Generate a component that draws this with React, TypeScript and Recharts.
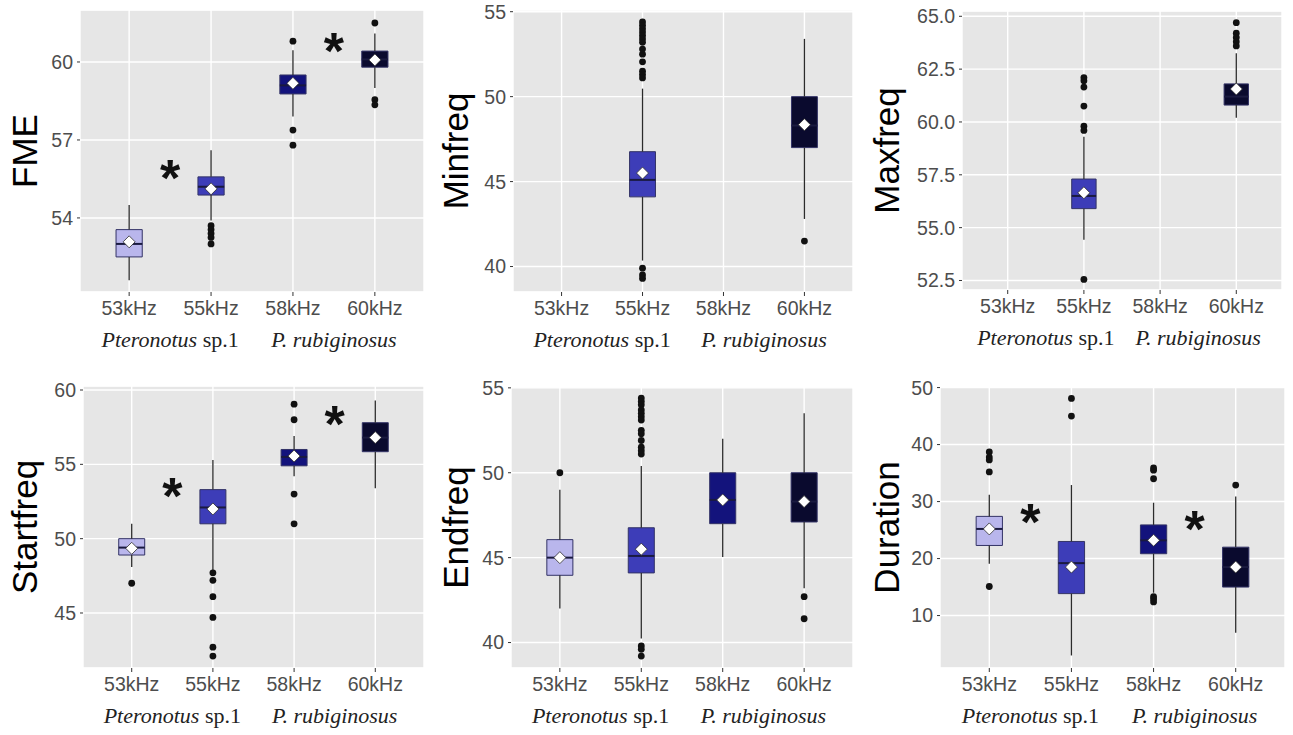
import React from 'react'
import {
  ComposedChart,
  XAxis,
  YAxis,
  CartesianGrid,
  Scatter,
  ReferenceArea,
  ReferenceLine,
} from 'recharts'

const GROUPS = ['53kHz', '55kHz', '58kHz', '60kHz']
const SPECIES_ITALIC = ['Pteronotus', 'P. rubiginosus']
const SPECIES_PLAIN = [' sp.1', '']
const SPECIES_POS = [1.5, 3.5]

// one row per group: [whisker low, Q1, median, Q3, whisker high, mean]; null = no data
type Stat = number[] | null

const fmeStats: Stat[] = [
  [51.6, 52.5, 53.0, 53.55, 54.5, 53.08],
  [53.9, 54.88, 55.2, 55.58, 56.6, 55.12],
  [57.9, 58.77, 59.1, 59.5, 60.45, 59.18],
  [59.0, 59.8, 60.1, 60.42, 61.1, 60.08],
]
const fmeOutliers = [
  [2, 53.7], [2, 53.55], [2, 53.4], [2, 53.25], [2, 53.0],
  [3, 60.8], [3, 57.38], [3, 56.8],
  [4, 61.5], [4, 58.55], [4, 58.35],
]
const fmeStars = [[1.5, 56.0], [3.5, 60.9]]

const minStats: Stat[] = [
  null,
  [40.35, 44.1, 45.1, 46.76, 50.47, 45.5],
  null,
  [42.8, 47.0, 48.3, 50.0, 53.4, 48.35],
]
const minOutliers = [
  [2, 54.4], [2, 54.2], [2, 54.0], [2, 53.8], [2, 53.6], [2, 53.4], [2, 53.2],
  [2, 52.8], [2, 52.5], [2, 52.05], [2, 51.5], [2, 51.3], [2, 51.1],
  [2, 39.9], [2, 39.5], [2, 39.3],
  [4, 41.5],
]

const maxStats: Stat[] = [
  null,
  [54.43, 55.9, 56.5, 57.3, 59.3, 56.65],
  null,
  [60.2, 60.8, 61.2, 61.8, 63.25, 61.56],
]
const maxOutliers = [
  [2, 62.1], [2, 61.95], [2, 61.65], [2, 60.75], [2, 59.8], [2, 59.6], [2, 52.55],
  [4, 64.7], [4, 64.2], [4, 64.0], [4, 63.8], [4, 63.6],
]

const startStats: Stat[] = [
  [48.1, 48.9, 49.4, 50.0, 51.0, 49.35],
  [47.9, 51.0, 52.1, 53.3, 55.3, 52.0],
  [54.2, 54.9, 55.5, 56.0, 56.9, 55.56],
  [53.4, 55.85, 56.8, 57.8, 59.3, 56.8],
]
const startOutliers = [
  [1, 47.0],
  [2, 47.7], [2, 47.2], [2, 46.1], [2, 44.7], [2, 42.7], [2, 42.1],
  [3, 59.05], [3, 58.0], [3, 53.0], [3, 51.0],
]
const startStars = [[1.5, 53.7], [3.5, 58.5]]

const endStats: Stat[] = [
  [42.0, 43.96, 45.0, 46.06, 49.0, 45.0],
  [40.24, 44.1, 45.1, 46.76, 50.4, 45.5],
  [45.04, 47.0, 48.4, 50.0, 52.0, 48.4],
  [43.2, 47.1, 48.3, 50.0, 53.5, 48.3],
]
const endOutliers = [
  [1, 50.0],
  [2, 54.4], [2, 54.2], [2, 54.0], [2, 53.7], [2, 53.5], [2, 53.3], [2, 53.1],
  [2, 52.5], [2, 52.3], [2, 51.9], [2, 51.5], [2, 51.3], [2, 51.1],
  [2, 39.8], [2, 39.6], [2, 39.2],
  [4, 42.7], [4, 41.4],
]

const durStats: Stat[] = [
  [19.1, 22.3, 25.2, 27.4, 31.2, 25.2],
  [3.0, 13.85, 19.2, 23.0, 32.9, 18.5],
  [14.0, 20.85, 23.2, 25.9, 29.8, 23.2],
  [7.0, 15.0, 18.5, 22.0, 30.9, 18.5],
]
const durOutliers = [
  [1, 38.7], [1, 37.8], [1, 37.3], [1, 35.2], [1, 15.1],
  [2, 48.1], [2, 45.0],
  [3, 35.9], [3, 35.5], [3, 34.0], [3, 13.3], [3, 12.9], [3, 12.4],
  [4, 32.9],
]
const durStars = [[1.5, 28.5], [3.5, 27.4]]

const BOX_FILL = ['#b9b6ec', '#3d3db8', '#13137c', '#0a0a2e']
const INK = '#2b2b2b'
const HALF = 0.16

const TickText = { fontFamily: 'Liberation Sans, Arial, sans-serif', fontSize: 19.5, fill: '#4d4d4d' }

function SpeciesTick(props: any) {
  const { x, y, payload } = props
  const i = SPECIES_POS.indexOf(payload.value)
  if (i < 0) return null
  return (
    <text x={x} y={y + 25} textAnchor="middle" fontFamily="Liberation Serif, 'Times New Roman', serif" fontSize={22} fill="#222">
      <tspan fontStyle="italic">{SPECIES_ITALIC[i]}</tspan>
      {SPECIES_PLAIN[i] ? <tspan>{SPECIES_PLAIN[i]}</tspan> : null}
    </text>
  )
}

function Diamond(props: any) {
  const { cx, cy } = props
  const r = 6
  return <path d={`M${cx},${cy - r}L${cx + r},${cy}L${cx},${cy + r}L${cx - r},${cy}Z`} fill="#fff" stroke={INK} strokeWidth={0.8} />
}

function Dot(props: any) {
  return <circle cx={props.cx} cy={props.cy} r={3.4} fill="#111" />
}

function Star(props: any) {
  const fs = 52
  return (
    <text x={props.cx} y={props.cy + fs * 0.58} textAnchor="middle" fontFamily="Liberation Sans, Arial, sans-serif" fontWeight="bold" fontSize={fs} fill="#111">
      *
    </text>
  )
}

const Nothing = () => null

interface PanelProps {
  title: string
  stats: Stat[]
  outliers: number[][]
  stars?: number[][]
  domain: [number, number]
  ticks: number[]
  minor: number[]
  fmt?: (v: number) => string
  left: number
  top: number
  height: number
  yWidth: number
  mTop: number
  mRight: number
}

function Panel(p: PanelProps) {
  const boxes = p.stats.map((s, i) => ({ s, x: i + 1, color: BOX_FILL[i] })).filter((b) => b.s)
  const means = boxes.map((b) => ({ x: b.x, y: (b.s as number[])[5] }))
  const outs = p.outliers.map(([g, v]) => ({ x: g, y: v }))
  const stars = (p.stars || []).map(([g, v]) => ({ x: g, y: v }))
  const speciesAnchors = SPECIES_POS.map((x) => ({ x, y: p.ticks[0] }))
  return (
    <div style={{ position: 'absolute', left: p.left, top: p.top }}>
      <ComposedChart width={431} height={p.height} margin={{ top: p.mTop, right: p.mRight, left: 0, bottom: 0 }}>
        <CartesianGrid yAxisId="minor" vertical={false} stroke="#fff" strokeWidth={0.7} fill="#e6e6e6" />
        <CartesianGrid stroke="#fff" strokeWidth={1.4} />
        <XAxis
          dataKey="x"
          type="number"
          domain={[0.4, 4.6]}
          ticks={[1, 2, 3, 4]}
          interval={0}
          allowDataOverflow
          tickFormatter={(v: number) => GROUPS[v - 1]}
          axisLine={false}
          tickLine={{ stroke: '#333' }}
          tickSize={4}
          tickMargin={5}
          height={30}
          tick={TickText}
        />
        <XAxis
          xAxisId="sp"
          dataKey="x"
          type="number"
          domain={[0.4, 4.6]}
          ticks={SPECIES_POS}
          interval={0}
          allowDataOverflow
          axisLine={false}
          tickLine={false}
          tickSize={0}
          tickMargin={0}
          height={43}
          tick={<SpeciesTick />}
        />
        <YAxis
          dataKey="y"
          type="number"
          domain={p.domain}
          ticks={p.ticks}
          interval={0}
          allowDataOverflow
          tickFormatter={p.fmt}
          axisLine={false}
          tickLine={{ stroke: '#333' }}
          tickSize={3}
          tickMargin={4}
          width={p.yWidth}
          tick={TickText}
          label={{
            content: (lp: any) => {
              const vb = lp.viewBox
              const cy = vb.y + vb.height / 2
              return (
                <text x={37} y={cy} transform={`rotate(-90 37 ${cy})`} textAnchor="middle" fontFamily="Liberation Sans, Arial, sans-serif" fontSize={35} fill="#000">
                  {p.title}
                </text>
              )
            },
          }}
        />
        <YAxis yAxisId="minor" dataKey="y" type="number" domain={p.domain} ticks={p.minor} interval={0} allowDataOverflow axisLine={false} tickLine={false} tick={false} width={0} />
        {boxes.map((b) => {
          const s = b.s as number[]
          return (
            <ReferenceLine key={`wl${b.x}`} segment={[{ x: b.x, y: s[0] }, { x: b.x, y: s[1] }]} stroke={INK} strokeWidth={1.3} />
          )
        })}
        {boxes.map((b) => {
          const s = b.s as number[]
          return (
            <ReferenceLine key={`wh${b.x}`} segment={[{ x: b.x, y: s[3] }, { x: b.x, y: s[4] }]} stroke={INK} strokeWidth={1.3} />
          )
        })}
        {boxes.map((b) => {
          const s = b.s as number[]
          return (
            <ReferenceArea key={`bx${b.x}`} x1={b.x - HALF} x2={b.x + HALF} y1={s[1]} y2={s[3]} fill={b.color} fillOpacity={1} stroke="#333366" strokeWidth={1} />
          )
        })}
        {boxes.map((b) => {
          const s = b.s as number[]
          return (
            <ReferenceLine key={`md${b.x}`} segment={[{ x: b.x - HALF, y: s[2] }, { x: b.x + HALF, y: s[2] }]} stroke="#1a1a40" strokeWidth={2} />
          )
        })}
        <Scatter xAxisId="sp" data={speciesAnchors} shape={<Nothing />} isAnimationActive={false} />
        <Scatter data={outs} shape={<Dot />} isAnimationActive={false} />
        <Scatter data={means} shape={<Diamond />} isAnimationActive={false} />
        <Scatter data={stars} shape={<Star />} isAnimationActive={false} />
      </ComposedChart>
    </div>
  )
}

const fmt1 = (v: number) => v.toFixed(1)

export default function App() {
  return (
    <div style={{ position: 'absolute', left: 0, top: 0, width: 1293, height: 735, background: '#fff', overflow: 'hidden' }}>
      <Panel title="FME" stats={fmeStats} outliers={fmeOutliers} stars={fmeStars} domain={[51.15, 62.0]} ticks={[54, 57, 60]} minor={[52.5, 55.5, 58.5, 61.5]} left={0} top={0} height={365} yWidth={80} mTop={10} mRight={7} />
      <Panel title="Minfreq" stats={minStats} outliers={minOutliers} domain={[38.5, 55.1]} ticks={[40, 45, 50, 55]} minor={[42.5, 47.5, 52.5]} left={431} top={0} height={365} yWidth={82} mTop={10} mRight={9} />
      <Panel title="Maxfreq" stats={maxStats} outliers={maxOutliers} domain={[52.05, 65.25]} ticks={[52.5, 55, 57.5, 60, 62.5, 65]} minor={[53.75, 56.25, 58.75, 61.25, 63.75]} fmt={fmt1} left={862} top={0} height={363} yWidth={100} mTop={11} mRight={11} />
      <Panel title="Startfreq" stats={startStats} outliers={startOutliers} stars={startStars} domain={[41.3, 60.27]} ticks={[45, 50, 55, 60]} minor={[42.5, 47.5, 52.5, 57.5]} left={0} top={376} height={365} yWidth={83} mTop={10} mRight={7} />
      <Panel title="Endfreq" stats={endStats} outliers={endOutliers} domain={[38.5, 55.05]} ticks={[40, 45, 50, 55]} minor={[42.5, 47.5, 52.5]} left={431} top={377} height={364} yWidth={80} mTop={10} mRight={9} />
      <Panel title="Duration" stats={durStats} outliers={durOutliers} stars={durStars} domain={[0.8, 50.1]} ticks={[10, 20, 30, 40, 50]} minor={[5, 15, 25, 35, 45]} left={862} top={377} height={364} yWidth={78} mTop={10} mRight={8} />
    </div>
  )
}
